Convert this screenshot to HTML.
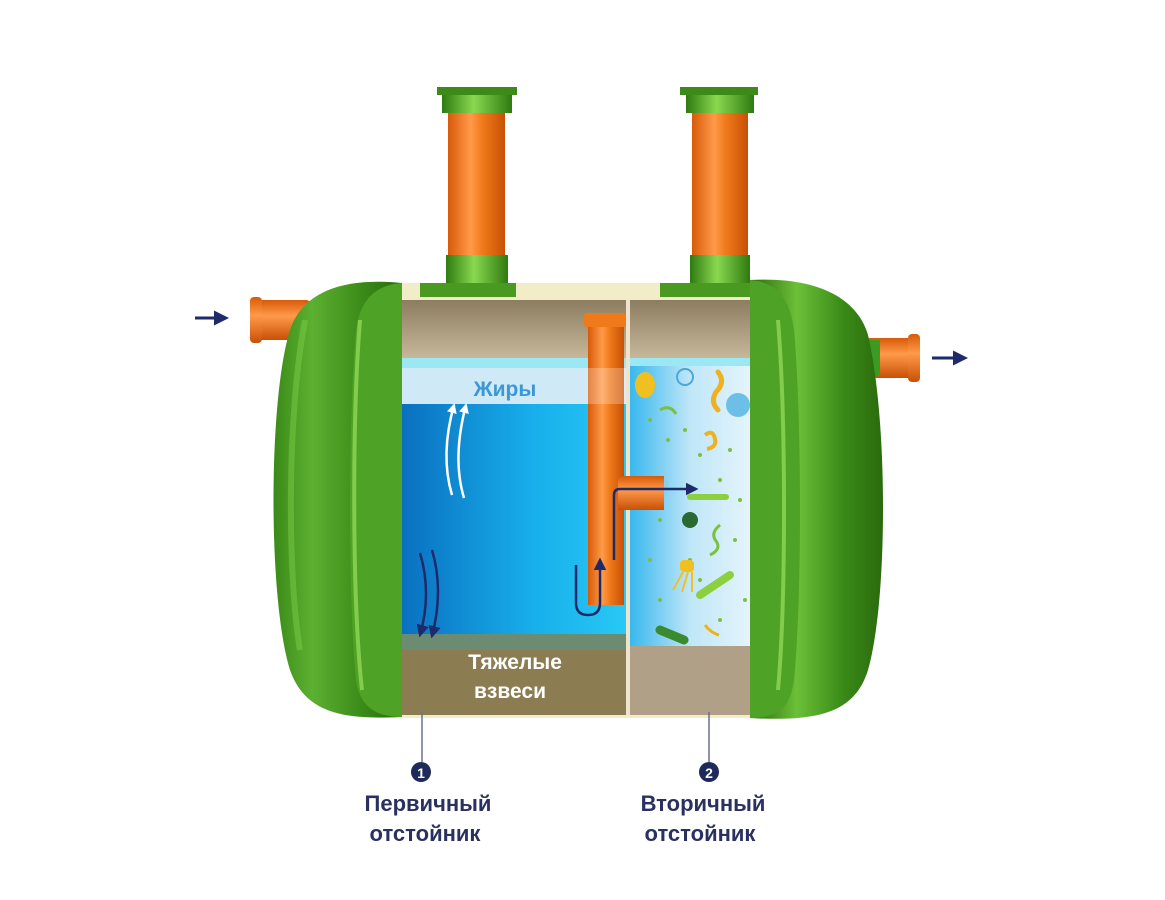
<!DOCTYPE html>
<html><head><meta charset="utf-8"><style>
html,body{margin:0;padding:0;background:#fff;width:1165px;height:900px;overflow:hidden}
svg{display:block}
text{font-family:"Liberation Sans","DejaVu Sans",sans-serif;font-weight:bold}
</style></head><body>
<svg width="1165" height="900" viewBox="0 0 1165 900" xmlns="http://www.w3.org/2000/svg">
<defs>
<linearGradient id="or" x1="0" x2="1"><stop offset="0" stop-color="#d85a08"/><stop offset=".4" stop-color="#ff9a4a"/><stop offset=".6" stop-color="#f07a1a"/><stop offset="1" stop-color="#c85006"/></linearGradient>
<linearGradient id="orv" x1="0" y1="0" x2="0" y2="1"><stop offset="0" stop-color="#d85a08"/><stop offset=".4" stop-color="#ff9a4a"/><stop offset="1" stop-color="#c85006"/></linearGradient>
<linearGradient id="gr" x1="0" x2="1"><stop offset="0" stop-color="#2e7a10"/><stop offset=".45" stop-color="#8ad850"/><stop offset="1" stop-color="#2e7a10"/></linearGradient>
<linearGradient id="capL" x1="0" x2="1"><stop offset="0" stop-color="#3a8a18"/><stop offset=".3" stop-color="#5cb030"/><stop offset=".7" stop-color="#3a8a18"/><stop offset="1" stop-color="#2a6a0c"/></linearGradient>
<linearGradient id="capR" x1="0" x2="1"><stop offset="0" stop-color="#2a6a0c"/><stop offset=".35" stop-color="#6cc038"/><stop offset=".7" stop-color="#3a8a18"/><stop offset="1" stop-color="#2a6a0c"/></linearGradient>
<linearGradient id="water" x1="0" x2="1"><stop offset="0" stop-color="#0a70c0"/><stop offset=".6" stop-color="#18b0ec"/><stop offset="1" stop-color="#28c8f4"/></linearGradient>
<linearGradient id="bio" x1="0" x2="1"><stop offset="0" stop-color="#38b8ee"/><stop offset=".5" stop-color="#bfe6f8"/><stop offset="1" stop-color="#e4f4fb"/></linearGradient>
<linearGradient id="wall" x1="0" y1="0" x2="0" y2="1"><stop offset="0" stop-color="#8c7c60"/><stop offset="1" stop-color="#c8b89c"/></linearGradient>
<marker id="ah" viewBox="0 0 10 10" refX="8" refY="5" markerWidth="5" markerHeight="5" orient="auto"><path d="M0,0L10,5L0,10z" fill="#1e2a6a"/></marker>
<marker id="aw" viewBox="0 0 10 10" refX="8" refY="5" markerWidth="4" markerHeight="4" orient="auto"><path d="M0,0L10,5L0,10z" fill="#fff"/></marker>
</defs>

<!-- inlet pipe -->
<rect x="252" y="300" width="60" height="40" rx="6" fill="url(#orv)"/>
<rect x="250" y="297" width="12" height="46" rx="4" fill="url(#orv)"/>
<path d="M195 318 H226" stroke="#1e2a6a" stroke-width="3" marker-end="url(#ah)"/>
<!-- outlet pipe -->
<rect x="860" y="338" width="58" height="40" rx="6" fill="url(#orv)"/>
<rect x="908" y="334" width="12" height="48" rx="4" fill="url(#orv)"/>
<rect x="862" y="340" width="18" height="36" fill="#3d9a20"/>
<path d="M932 358 H965" stroke="#1e2a6a" stroke-width="3" marker-end="url(#ah)"/>

<!-- risers -->
<g>
<rect x="448" y="95" width="57" height="170" fill="url(#or)"/>
<rect x="437" y="87" width="80" height="8" fill="#3d8a18"/>
<rect x="442" y="95" width="70" height="18" fill="url(#gr)"/>
<rect x="446" y="255" width="62" height="30" fill="url(#gr)"/>
<rect x="420" y="283" width="96" height="14" fill="#4a9a22"/>
</g>
<g>
<rect x="692" y="95" width="56" height="170" fill="url(#or)"/>
<rect x="680" y="87" width="78" height="8" fill="#3d8a18"/>
<rect x="686" y="95" width="68" height="18" fill="url(#gr)"/>
<rect x="690" y="255" width="60" height="30" fill="url(#gr)"/>
<rect x="660" y="283" width="92" height="14" fill="#4a9a22"/>
</g>

<!-- middle body -->
<rect x="400" y="283" width="352" height="435" fill="#f3ecc8"/>
<rect x="420" y="283" width="96" height="14" fill="#4a9a22"/>
<rect x="660" y="283" width="92" height="14" fill="#4a9a22"/>
<rect x="402" y="300" width="224" height="60" fill="url(#wall)"/>
<rect x="630" y="300" width="120" height="60" fill="url(#wall)"/>
<rect x="402" y="358" width="348" height="10" fill="#9ae8f4"/>
<rect x="402" y="368" width="224" height="36" fill="#cfe9f6"/>
<rect x="402" y="404" width="224" height="232" fill="url(#water)"/>
<rect x="402" y="634" width="224" height="16" fill="#6b8c72"/>
<rect x="402" y="650" width="224" height="65" fill="#8c7c52"/>
<rect x="630" y="366" width="120" height="280" fill="url(#bio)"/>
<rect x="630" y="646" width="120" height="69" fill="#b0a088"/>
<rect x="626" y="300" width="4" height="415" fill="#ece4cc"/>

<!-- bacteria -->
<g fill="#7cc040">
<circle cx="650" cy="420" r="2"/><circle cx="668" cy="440" r="2"/><circle cx="700" cy="455" r="2"/><circle cx="645" cy="480" r="2"/><circle cx="720" cy="480" r="2"/><circle cx="740" cy="500" r="2"/><circle cx="660" cy="520" r="2"/><circle cx="735" cy="540" r="2"/><circle cx="650" cy="560" r="2"/><circle cx="700" cy="580" r="2"/><circle cx="745" cy="600" r="2"/><circle cx="660" cy="600" r="2"/><circle cx="720" cy="620" r="2"/><circle cx="685" cy="430" r="2"/><circle cx="730" cy="450" r="2"/><circle cx="690" cy="560" r="2"/>
</g>
<ellipse cx="645" cy="385" rx="10" ry="13" fill="#f0c020"/>
<circle cx="685" cy="377" r="8" fill="none" stroke="#4aa8d8" stroke-width="2"/>
<path d="M718 372 q8 10 -2 20 q-6 10 2 18" stroke="#f0b020" stroke-width="5" fill="none" stroke-linecap="round"/>
<circle cx="738" cy="405" r="12" fill="#6cc0e8"/>
<path d="M660 410 q10 -6 16 4" stroke="#7cc040" stroke-width="3" fill="none"/>
<path d="M705 435 q8 -6 10 4 q2 8 -8 10" stroke="#f0b020" stroke-width="4" fill="none"/>
<path d="M690 497 h36" stroke="#8cd040" stroke-width="6" stroke-linecap="round"/>
<circle cx="690" cy="520" r="8" fill="#2a6a30"/>
<path d="M720 525 q-10 8 -4 16 q6 8 -6 14" stroke="#7cc040" stroke-width="3" fill="none"/>
<rect x="680" y="560" width="14" height="12" rx="4" fill="#f0c020"/>
<path d="M683 572 l-10 18 M688 572 l-6 20 M692 572 l0 20" stroke="#f0c020" stroke-width="2"/>
<path d="M700 595 l30 -20" stroke="#8cd040" stroke-width="8" stroke-linecap="round"/>
<path d="M660 630 l24 10" stroke="#3a8a30" stroke-width="9" stroke-linecap="round"/>
<path d="M705 625 q6 8 14 10" stroke="#f0b020" stroke-width="3" fill="none"/>
<circle cx="663" cy="484" r="6" fill="#8ad0ec"/>

<!-- internal pipe -->
<rect x="588" y="322" width="36" height="283" fill="url(#or)"/>
<rect x="584" y="313" width="42" height="14" rx="3" fill="#f07a1a"/>
<rect x="618" y="476" width="46" height="34" fill="url(#orv)"/>
<rect x="588" y="368" width="38" height="36" fill="#ffffff" opacity=".25"/>

<!-- flow arrows -->
<path d="M576 565 V603 q0 12 12 12 q12 0 12 -12 V560" stroke="#1e2a6a" stroke-width="2.5" fill="none" marker-end="url(#ah)"/>
<path d="M614 560 V495 q0 -6 6 -6 H696" stroke="#1e2a6a" stroke-width="2.5" fill="none" marker-end="url(#ah)"/>
<path d="M420 553 q12 40 0 82" stroke="#1e2a6a" stroke-width="2.5" fill="none" marker-end="url(#ah)"/>
<path d="M432 550 q12 40 0 86" stroke="#1e2a6a" stroke-width="2.5" fill="none" marker-end="url(#ah)"/>
<path d="M452 495 q-12 -40 2 -90" stroke="#fff" stroke-width="2.5" fill="none" marker-end="url(#aw)"/>
<path d="M464 498 q-12 -40 2 -93" stroke="#fff" stroke-width="2.5" fill="none" marker-end="url(#aw)"/>

<text x="505" y="396" font-size="21" fill="#3a98d8" text-anchor="middle">Жиры</text>
<text x="515" y="669" font-size="21" fill="#fff" text-anchor="middle">Тяжелые</text>
<text x="510" y="698" font-size="21" fill="#fff" text-anchor="middle">взвеси</text>

<!-- caps -->
<path d="M402 283 C330 276 300 300 290 330 C268 400 268 600 290 670 C305 712 340 720 402 717 Z" fill="url(#capL)"/>
<path d="M402 283 C375 285 360 300 356 330 C348 420 348 600 356 680 C360 710 380 717 402 717 Z" fill="#4ea226"/>
<path d="M360 320 C352 420 352 600 362 690" stroke="#9ade60" stroke-width="4" fill="none" opacity=".7"/>
<path d="M750 280 C820 276 858 300 868 335 C888 420 888 600 868 670 C855 712 820 722 750 718 Z" fill="url(#capR)"/>
<path d="M750 280 C778 282 790 300 794 330 C802 420 802 600 794 680 C790 708 778 718 750 718 Z" fill="#4ea226"/>
<path d="M778 320 C786 420 786 600 778 690" stroke="#9ade60" stroke-width="4" fill="none" opacity=".7"/>
<path d="M305 320 C286 420 288 580 300 650" stroke="#7ccc48" stroke-width="6" fill="none" opacity=".5"/>

<!-- labels -->
<line x1="422" y1="712" x2="422" y2="762" stroke="#6a7090" stroke-width="1.5"/>
<line x1="709" y1="712" x2="709" y2="762" stroke="#6a7090" stroke-width="1.5"/>
<circle cx="421" cy="772" r="10" fill="#1e2a5a"/>
<text x="421" y="778" font-size="14" fill="#fff" text-anchor="middle">1</text>
<circle cx="709" cy="772" r="10" fill="#1e2a5a"/>
<text x="709" y="778" font-size="14" fill="#fff" text-anchor="middle">2</text>
<g font-size="22" fill="#2a3060" text-anchor="middle">
<text x="428" y="811">Первичный</text>
<text x="425" y="841">отстойник</text>
<text x="703" y="811">Вторичный</text>
<text x="700" y="841">отстойник</text>
</g>
</svg>
</body></html>
